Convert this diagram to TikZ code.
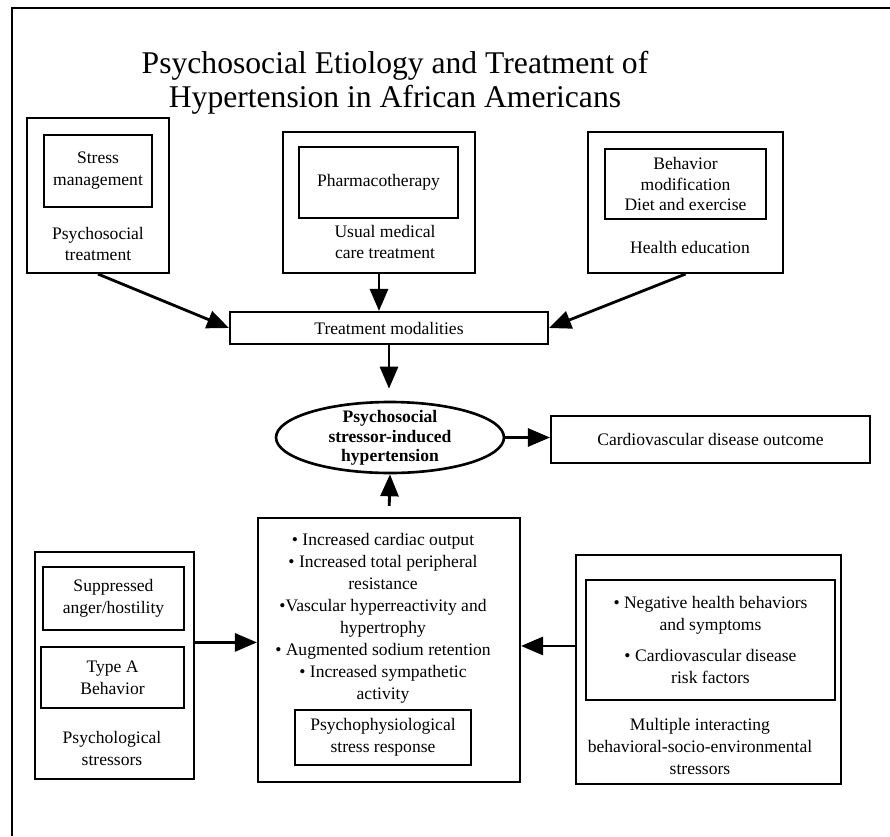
\documentclass[tikz,border=0pt]{standalone}
\usepackage{fontspec}
\setmainfont{Liberation Serif}
\usetikzlibrary{arrows.meta,shapes.geometric}
\begin{document}
\begin{tikzpicture}[x=0.02cm, y=-0.02cm,
    font=\fontsize{10}{12.5}\selectfont,
    box/.style={draw, line width=1.2pt, inner sep=0pt, align=center},
    txt/.style={align=center, inner sep=0pt},
    arr/.style={line width=1.6pt, -{Triangle[length=0.44cm,width=0.36cm]}}]
    \useasboundingbox (0,0) rectangle (890,836);
    \draw[line width=1.2pt] (890,8) -- (12,8) -- (12,836);
    % title
    \node[txt, font=\fontsize{18}{19.5}\selectfont] (title) at (395,83)
        {Psychosocial Etiology and Treatment of\\Hypertension in African Americans};
    % treatments
    \node[box, minimum width=2.84cm, minimum height=3.10cm] (psyout) at (98,195.5) {};
    \node[box, minimum width=2.16cm, minimum height=1.44cm] (stress) at (98,171) {Stress\\management};
    \node[txt] (psylabel) at (98,244) {Psychosocial\\treatment};
    \node[box, minimum width=3.84cm, minimum height=2.82cm] (medout) at (379,202.5) {};
    \node[box, minimum width=3.18cm, minimum height=1.42cm] (pharma) at (378.5,182.5) {Pharmacotherapy};
    \node[txt] (medlabel) at (385,242) {Usual medical\\care treatment};
    \node[box, minimum width=3.90cm, minimum height=2.82cm] (healthout) at (685.5,202.5) {};
    \node[box, minimum width=3.22cm, minimum height=1.40cm, font=\fontsize{10}{11.5}\selectfont] (behav) at (685.5,184) {Behavior\\modification\\Diet and exercise};
    \node[txt] (healthlabel) at (690,247) {Health education};
    \node[box, minimum width=6.36cm, minimum height=0.64cm] (treat) at (389,328) {Treatment modalities};
    \draw[arr] (psyout.south) -- (treat.west);
    \draw[arr] (medout.south) -- (medout.south |- treat.north);
    \draw[arr] (healthout.south) -- (treat.east);
    % hypertension and outcome
    \node[box, ellipse, line width=1.5pt, minimum width=4.56cm, minimum height=1.42cm] (hyper) at (390,437.5) {};
    \node[txt, font=\fontsize{10}{11}\selectfont\bfseries] (hyperlabel) at (390,438)
        {Psychosocial\\stressor-induced\\hypertension};
    \node[box, minimum width=6.38cm, minimum height=0.94cm] (cvd) at (710.5,439.5) {Cardiovascular disease outcome};
    \draw[arr, shorten >=0.24cm] (treat.south) -- (treat.south |- hyper.north);
    \draw[arr] (hyper.east) -- (hyper.east -| cvd.west);
    % stress response
    \node[box, minimum width=5.24cm, minimum height=5.28cm] (resp) at (389,650) {};
    \node[txt] (resplist) at (383,618.5) {• Increased cardiac output\\• Increased total peripheral\\resistance\\•Vascular hyperreactivity and\\hypertrophy\\• Augmented sodium retention\\• Increased sympathetic\\activity};
    \node[box, minimum width=3.52cm, minimum height=1.10cm] (physio) at (383,737.5) {Psychophysiological\\stress response};
    \draw[arr, shorten <=0.22cm] (resp.north) -- (hyper.south);
    % psychological stressors
    \node[box, minimum width=3.18cm, minimum height=4.54cm] (stressout) at (114.5,665.5) {};
    \node[box, minimum width=2.82cm, minimum height=1.26cm] (anger) at (113.5,598.5) {Suppressed\\anger/hostility};
    \node[box, minimum width=2.86cm, minimum height=1.22cm] (typeA) at (112.5,677.5) {Type A\\Behavior};
    \node[txt] (stresslabel) at (112,748) {Psychological\\stressors};
    \draw[arr] (stressout.16) -- (stressout.16 -| resp.west);
    % environmental stressors
    \node[box, minimum width=5.30cm, minimum height=4.58cm] (envout) at (708.5,669.5) {};
    \node[box, minimum width=4.98cm, minimum height=2.40cm] (negbeh) at (710.5,640)
        {• Negative health behaviors\\and symptoms\\[0.18cm]• Cardiovascular disease\\risk factors};
    \node[txt] (envlabel) at (700,746.5) {Multiple interacting\\behavioral-socio-environmental\\stressors};
    \draw[arr] (envout.170) -- (envout.170 -| resp.east);
\end{tikzpicture}
\end{document}
